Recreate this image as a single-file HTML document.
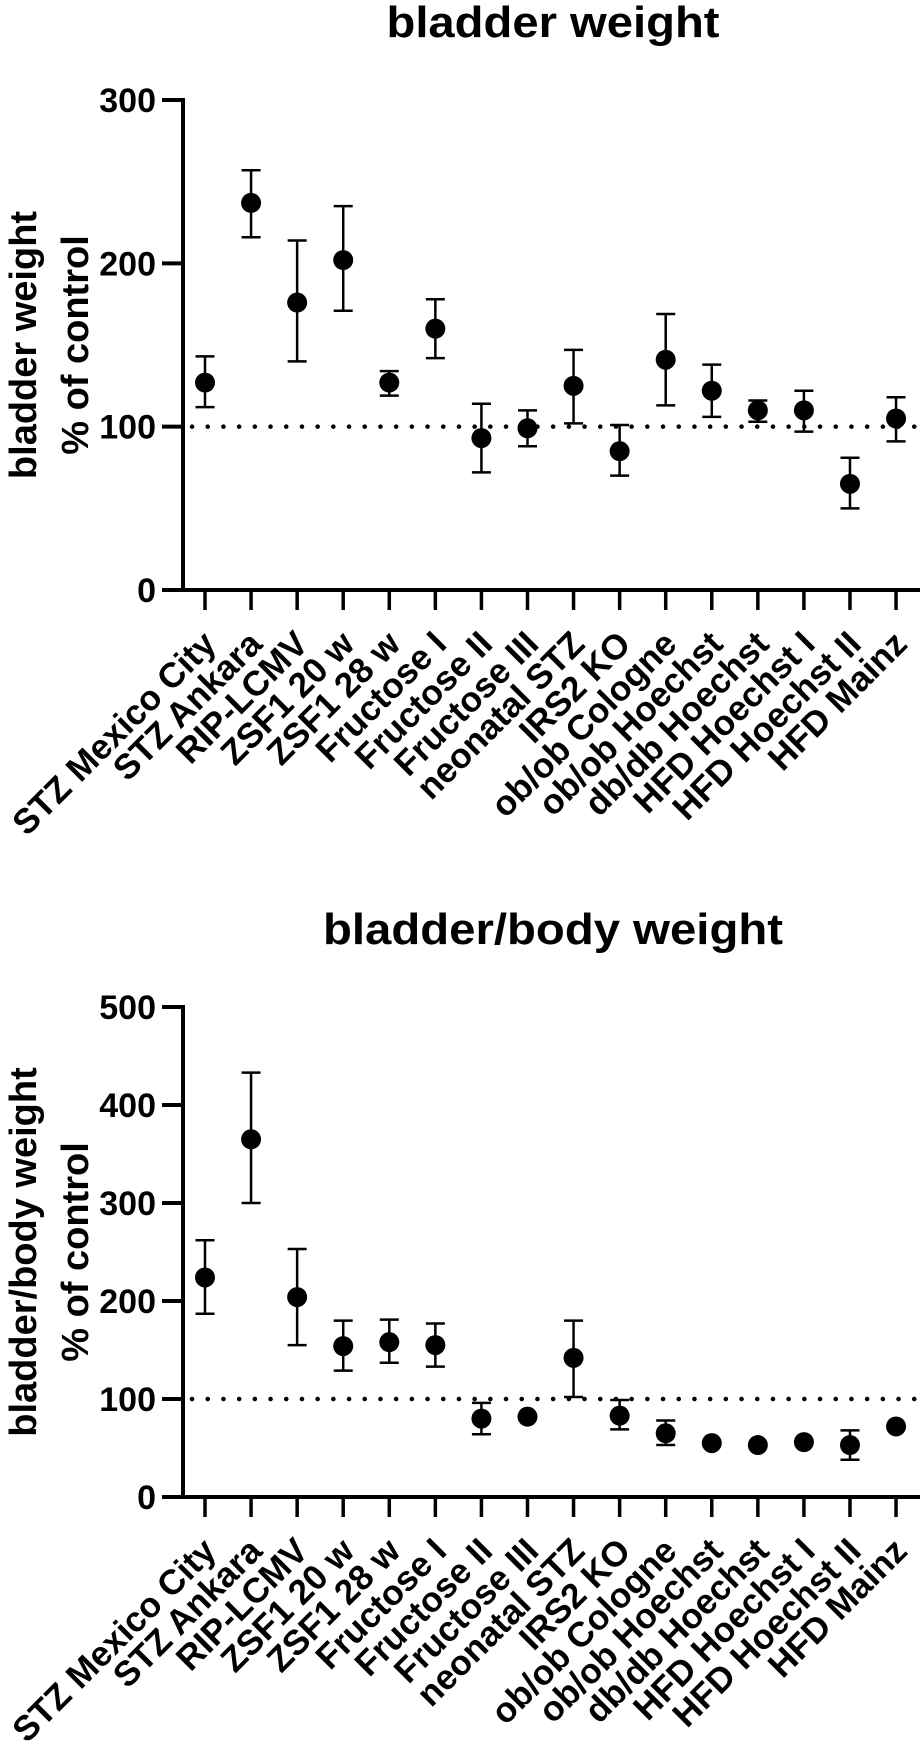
<!DOCTYPE html>
<html><head><meta charset="utf-8">
<style>
html,body{margin:0;padding:0;background:#fff;}
svg{display:block;font-family:"Liberation Sans",Arial,sans-serif;font-weight:bold;}
</style></head>
<body>
<svg id="fig" width="923" height="1751" viewBox="0 0 923 1751" xmlns="http://www.w3.org/2000/svg"></svg>
<script>
const categories = ["STZ Mexico City","STZ Ankara","RIP-LCMV","ZSF1 20 w","ZSF1 28 w","Fructose I","Fructose II","Fructose III","neonatal STZ","IRS2 KO","ob/ob Cologne","ob/ob Hoechst","db/db Hoechst","HFD Hoechst I","HFD Hoechst II","HFD Mainz"];
const weightMean = [127,237,176,202,127,160,93,99,125,85,141,122,110,110,65,105];
const weightHigh = [143,257,214,235,134,178,114,110,147,101,169,138,116,122,81,118];
const weightLow  = [112,216,140,171,119,142,72,88,102,70,113,106,103,97,50,91];
const ratioMean = [224,365,204,154,158,155,80,82,142,83,65,55,53,56,53,72];
const ratioHigh = [262,433,253,180,181,177,96,82,180,99,78,55,53,56,68,72];
const ratioLow  = [187,300,155,129,137,133,64,82,102,69,53,55,53,56,38,72];
const weightTicks = [0,100,200,300];
const ratioTicks = [0,100,200,300,400,500];
const refValue = 100;

const NS = "http://www.w3.org/2000/svg";
const svg = document.getElementById('fig');
function mk(tag, attrs, parent){
  const e = document.createElementNS(NS, tag);
  for (const k in attrs) e.setAttribute(k, attrs[k]);
  (parent||svg).appendChild(e);
  return e;
}

function drawPanel(cfg){
  const g = mk('g', {});
  
  
  const x0 = 205, dx = 46.07, axisX = 183, zeroY = cfg.zeroY, topY = cfg.topY, maxV = cfg.ticks[cfg.ticks.length-1];
  const xs = i => x0 + i*dx;
  const ys = v => zeroY - (v/maxV)*(zeroY-topY);
  // title
  const t = mk('text', {x:553, y:cfg.titleY, 'text-anchor':'middle', 'font-size':44, textLength:cfg.titleLen, lengthAdjust:'spacingAndGlyphs'}, g);
  t.textContent = cfg.title;
  
  
  // y axis title
  const yc = (zeroY+topY)/2;
  const yt = mk('text', {x:0, y:0, 'text-anchor':'middle', 'font-size':38, transform:`translate(36,${yc}) rotate(-90)`}, g);
  yt.textContent = cfg.ytitle;
  
  
  const yt2 = mk('text', {x:0, y:0, 'text-anchor':'middle', 'font-size':38, transform:`translate(88,${yc}) rotate(-90)`}, g);
  yt2.textContent = '% of control';
  
  
  // reference line
  const ref = mk('line', {x1:192, x2:920, y1:ys(refValue), y2:ys(refValue), stroke:'#000', 'stroke-width':4.5, 'stroke-dasharray':'0.1 15.6', 'stroke-linecap':'round'}, g);
  
  
  // y axis
  const ya = mk('line', {x1:axisX, x2:axisX, y1:topY-2, y2:zeroY+2, stroke:'#000', 'stroke-width':4}, g);
  
  
  cfg.ticks.forEach(v => {
    const tk = mk('line', {x1:162, x2:axisX, y1:ys(v), y2:ys(v), stroke:'#000', 'stroke-width':4}, g);
    
    
    const tl = mk('text', {x:156, y:ys(v)+12, 'text-anchor':'end', 'font-size':34}, g);
    tl.textContent = v;
    
    
  });
  // x axis
  const xa = mk('line', {x1:162, x2:920, y1:zeroY, y2:zeroY, stroke:'#000', 'stroke-width':4}, g);
  
  
  categories.forEach((c,i) => {
    const x = xs(i);
    const tk = mk('line', {x1:x, x2:x, y1:zeroY, y2:zeroY+20, stroke:'#000', 'stroke-width':3.5}, g);
    
    
    const tl = mk('text', {x:0, y:0, 'text-anchor':'end', 'font-size':35, transform:`translate(${x+13},${zeroY+56}) rotate(-45)`}, g);
    tl.textContent = c;
    
    
    // error bar
    const hi = cfg.high[i], lo = cfg.low[i];
    if (hi !== lo) {
      const eb = mk('g', {stroke:'#000', 'stroke-width':2.5, fill:'none'}, g);
      
      
      mk('line', {x1:x, x2:x, y1:ys(hi), y2:ys(lo)}, eb);
      mk('line', {x1:x-9.5, x2:x+9.5, y1:ys(hi), y2:ys(hi)}, eb);
      mk('line', {x1:x-9.5, x2:x+9.5, y1:ys(lo), y2:ys(lo)}, eb);
    }
    const pt = mk('circle', {cx:x, cy:ys(cfg.mean[i]), r:10, fill:'#000'}, g);
    
    
  });
}

drawPanel({name:'bladder-weight-chart', title:'bladder weight', titleY:37, titleLen:333, ytitle:'bladder weight',
  zeroY:590, topY:100, ticks:weightTicks, mean:weightMean, high:weightHigh, low:weightLow});
drawPanel({name:'bladder-body-weight-chart', title:'bladder/body weight', titleY:944, titleLen:460, ytitle:'bladder/body weight',
  zeroY:1497, topY:1007, ticks:ratioTicks, mean:ratioMean, high:ratioHigh, low:ratioLow});
</script>
</body></html>
